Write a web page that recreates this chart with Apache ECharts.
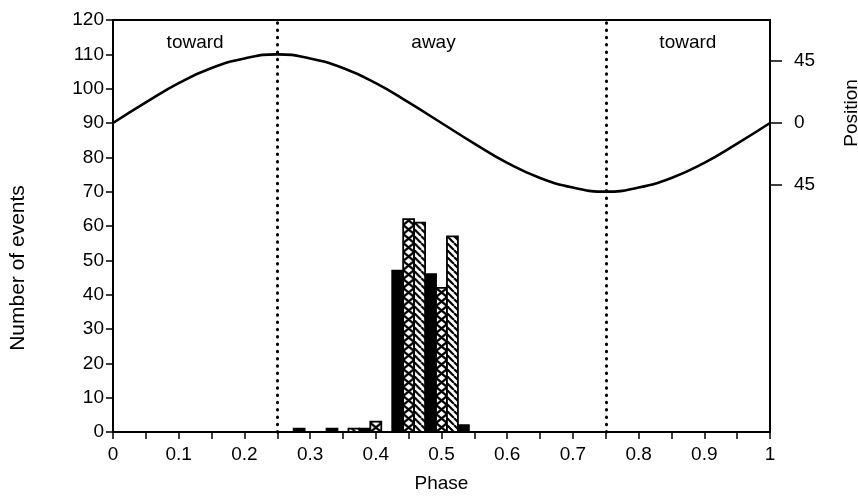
<!DOCTYPE html>
<html>
<head>
<meta charset="utf-8">
<script src="https://cdn.jsdelivr.net/npm/echarts@6/dist/echarts.min.js"></script>
<style>
  html, body { margin: 0; padding: 0; background: #fff; }
  #chart { width: 858px; height: 498px; }
</style>
</head>
<body>
<div id="chart"></div>
<script>
// Event counts per phase bin, three recording conditions side by side
const binCenters = [0.30, 0.35, 0.40, 0.45, 0.50, 0.55];
const solidCounts = [1, 1, 1, 47, 46, 2];
const crossCounts = [0, 0, 3, 62, 42, 0];
const diagonalCounts = [0, 1, 0, 61, 57, 0];
const binWidth = 0.05;

// Stimulus position (degrees) over one cycle
const curvePhase = [0, 0.05, 0.1, 0.15, 0.2, 0.25, 0.3, 0.35, 0.4, 0.45, 0.5,
                    0.55, 0.6, 0.65, 0.7, 0.75, 0.8, 0.85, 0.9, 0.95, 1];
const curvePosition = [0, 15, 29, 40, 47, 50, 47, 40, 29, 15, 0,
                       -15, -29, -40, -47, -50, -47, -40, -29, -15, 0];

// Direction of motion segments
const segmentBounds = [[0, 0.25], [0.25, 0.75], [0.75, 1]];
const segmentNames = ['toward', 'away', 'toward'];

// Right-axis ticks (degrees)
const positionTicks = [-45, 0, 45];

const FONT = 'Liberation Sans, Arial, Helvetica, sans-serif';

function makeCrossTile() {
  const c = document.createElement('canvas');
  c.width = 11; c.height = 9;
  const g = c.getContext('2d');
  g.fillStyle = '#fff'; g.fillRect(0, 0, 11, 9);
  g.strokeStyle = '#000'; g.lineWidth = 2.3;
  g.beginPath();
  g.moveTo(0, 0); g.lineTo(11, 9);
  g.moveTo(11, 0); g.lineTo(0, 9);
  g.stroke();
  return c;
}
function makeDiagonalTile() {
  const c = document.createElement('canvas');
  c.width = 7; c.height = 7;
  const g = c.getContext('2d');
  g.fillStyle = '#fff'; g.fillRect(0, 0, 7, 7);
  g.strokeStyle = '#000'; g.lineWidth = 2.2;
  g.beginPath();
  for (const k of [-7, 0, 7]) { g.moveTo(k, 0); g.lineTo(k + 7, 7); }
  g.stroke();
  return c;
}
const crossTile = makeCrossTile();
const diagonalTile = makeDiagonalTile();

// Each bin holds three adjacent bars; slot -1, 0, +1 inside the bin
function barSeries(name, counts, slot, fillKind) {
  const sub = binWidth / 3;
  return {
    name: name,
    type: 'custom',
    xAxisIndex: 0,
    yAxisIndex: 0,
    data: counts.map((v, i) => [binCenters[i] + slot * sub, v]),
    renderItem: function (params, api) {
      const x = api.value(0), v = api.value(1);
      const top = api.coord([x, v]);
      const base = api.coord([x, 0]);
      const w = api.size([sub, 0])[0];
      const left = top[0] - w / 2;
      let fill = '#000';
      if (fillKind === 'cross') fill = { image: crossTile, repeat: 'repeat', x: left, y: base[1] };
      if (fillKind === 'diagonal') fill = { image: diagonalTile, repeat: 'repeat', x: left, y: base[1] };
      return {
        type: 'rect',
        shape: { x: left, y: top[1], width: w, height: base[1] - top[1] },
        style: { fill: fill, stroke: '#000', lineWidth: 1.8 }
      };
    },
    silent: true,
    z: 3
  };
}

const chart = echarts.init(document.getElementById('chart'), null, { renderer: 'canvas' });

const axisText = { color: '#000', fontFamily: FONT, fontSize: 19 };

chart.setOption({
  animation: false,
  backgroundColor: '#fff',
  grid: { left: 110, right: 88, top: 20, bottom: 63, show: true, borderColor: '#000', borderWidth: 2 },
  xAxis: {
    type: 'value', min: 0, max: 1, interval: 0.1,
    name: 'Phase', nameLocation: 'middle', nameGap: 42,
    nameTextStyle: { color: '#000', fontFamily: FONT, fontSize: 19 },
    axisLine: { show: true, lineStyle: { color: '#000', width: 2 } },
    axisTick: { show: true, inside: false, length: 7, lineStyle: { color: '#000', width: 1.5 } },
    minorTick: { show: true, splitNumber: 2, length: 7, lineStyle: { color: '#000', width: 1.5 } },
    axisLabel: Object.assign({ margin: 13 }, axisText),
    splitLine: { show: false }
  },
  yAxis: [
    {
      type: 'value', min: 0, max: 120, interval: 10, position: 'left',
      name: 'Number of events', nameLocation: 'middle', nameGap: 84,
      nameTextStyle: { color: '#000', fontFamily: FONT, fontSize: 21, padding: [0, 84, 0, 0] },
      axisLine: { show: true, lineStyle: { color: '#000', width: 2 } },
      axisTick: { show: true, length: 7, lineStyle: { color: '#000', width: 1.5 } },
      axisLabel: Object.assign({ margin: 9 }, axisText),
      splitLine: { show: false }
    },
    {
      type: 'value', min: -225, max: 75, position: 'right',
      axisLine: { show: true, lineStyle: { color: '#000', width: 2 } },
      axisTick: { show: true, length: 12, customValues: positionTicks, lineStyle: { color: '#000', width: 1.5 } },
      axisLabel: Object.assign({ margin: 24, customValues: positionTicks, formatter: v => String(Math.abs(v)) }, axisText),
      splitLine: { show: false }
    }
  ],
  graphic: [
    {
      type: 'text', x: 852, y: 113, rotation: Math.PI / 2,
      style: { text: 'Position', fill: '#000', font: '19px ' + FONT, align: 'center', verticalAlign: 'middle' }
    }
  ],
  series: [
    {
      name: 'position',
      type: 'line',
      yAxisIndex: 1,
      data: curvePhase.map((p, i) => [p, curvePosition[i]]),
      smooth: true,
      showSymbol: false,
      lineStyle: { color: '#000', width: 2.6 },
      silent: true,
      z: 4,
      markLine: {
        silent: true,
        symbol: 'none',
        label: { show: false },
        lineStyle: { color: '#000', width: 3, type: [0.5, 6.8], cap: 'round' },
        data: [{ xAxis: segmentBounds[0][1] }, { xAxis: segmentBounds[1][1] }]
      },
      markArea: {
        silent: true,
        itemStyle: { color: 'rgba(0,0,0,0)' },
        label: { show: true, position: 'insideTop', distance: 13, color: '#000', fontFamily: FONT, fontSize: 19 },
        data: segmentBounds.map((b, i) => [
          { xAxis: b[0], name: segmentNames[i], label: i === 1 ? { offset: [-8, 0] } : {} },
          { xAxis: b[1] }
        ])
      }
    },
    barSeries('solid', solidCounts, -1, 'solid'),
    barSeries('cross', crossCounts, 0, 'cross'),
    barSeries('diagonal', diagonalCounts, 1, 'diagonal')
  ]
});
</script>
</body>
</html>
